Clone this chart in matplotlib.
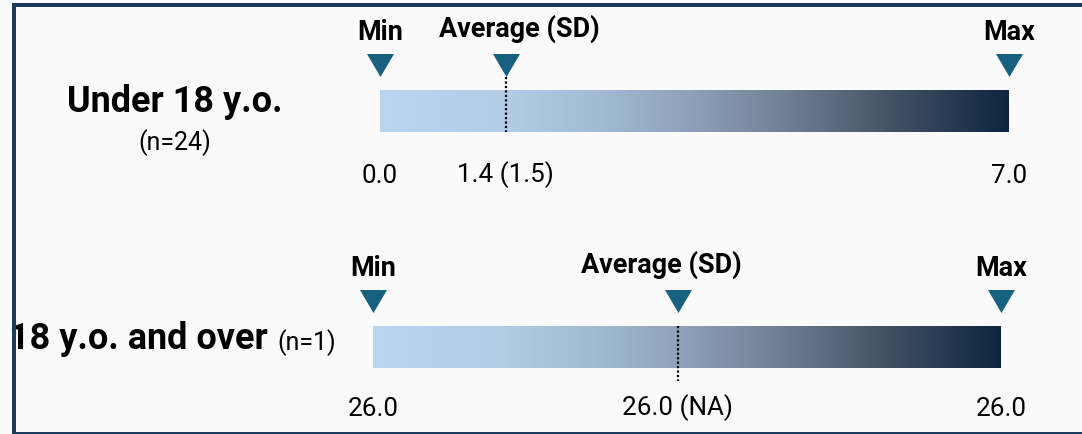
import numpy as np
import matplotlib.pyplot as plt
from matplotlib.colors import LinearSegmentedColormap
from matplotlib.path import Path

# Age groups and their summary statistics
groups = ["Under 18 y.o.", "18 y.o. and over"]
group_n = [24, 1]
min_vals = [0.0, 26.0]
avg_vals = [1.4, 26.0]
sd_vals = [1.5, None]
max_vals = [7.0, 26.0]

# Layout of each row (pixel space of the figure)
bar_left = [380, 373]
bar_right = [1009, 1001]
bar_top = [91, 327]
bar_height = 42
avg_label_shift = [14, -16]
dot_span = [(-13, 42), (0, 55)]
value_gap = [50, 47]
flat_frac = 0.485  # where the average sits when min == max

BG = "#FAFAFA"
TRI_COLOR = "#17607F"
BORDER = "#1C3A5C"
FONT = "Roboto"

grad = LinearSegmentedColormap.from_list(
    "bar_grad",
    [(0.0, "#BAD5F0"), (0.2, "#B3CDE7"), (0.35, "#A2BAD4"), (0.5, "#8DA0B7"),
     (0.65, "#6F7E93"), (0.8, "#475668"), (1.0, "#0E2540")],
)

tri = Path([(-1, 0.85), (1, 0.85), (0, -0.85), (-1, 0.85)],
           [Path.MOVETO, Path.LINETO, Path.LINETO, Path.CLOSEPOLY])

W, H = 1082, 435
fig = plt.figure(figsize=(W / 100, H / 100), dpi=100, facecolor=BG)
ax = fig.add_axes([0, 0, 1, 1])
ax.set_xlim(0, W)
ax.set_ylim(H, 0)
ax.set_facecolor(BG)
ax.axis("off")

ramp = np.linspace(0, 1, 512).reshape(1, -1)


def px(v):
    # pixel size -> points
    return v * 0.72


for i in range(len(groups)):
    x0, x1 = bar_left[i], bar_right[i]
    top = bar_top[i]
    bottom = top + bar_height
    span = max_vals[i] - min_vals[i]
    frac = (avg_vals[i] - min_vals[i]) / span if span > 0 else flat_frac
    xs = [x0, x0 + frac * (x1 - x0), x1]

    ax.imshow(ramp, cmap=grad, aspect="auto", extent=(x0, x1, bottom, top), zorder=1)

    # markers above the bar
    tri_y = top - 25
    ax.plot(xs, [tri_y] * 3, linestyle="none", marker=tri, markersize=px(27),
            color=TRI_COLOR, markeredgewidth=0, zorder=3)

    # dotted guide at the average
    d0, d1 = dot_span[i]
    ax.plot([xs[1], xs[1]], [top + d0, top + d1], color="black", linestyle=(0, (1, 1)),
            linewidth=1.6, zorder=4)

    # headers
    head_y = tri_y - 26
    ax.text(xs[0], head_y, "Min", ha="center", va="baseline", fontsize=px(27),
            fontweight="bold", family=FONT)
    ax.text(xs[1] + avg_label_shift[i], head_y - 3, "Average (SD)", ha="center",
            va="baseline", fontsize=px(27), fontweight="bold", family=FONT)
    ax.text(xs[2], head_y, "Max", ha="center", va="baseline", fontsize=px(27),
            fontweight="bold", family=FONT)

    # values under the bar
    sd_txt = "NA" if sd_vals[i] is None else f"{sd_vals[i]:.1f}"
    val_y = bottom + value_gap[i]
    ax.text(xs[0], val_y, f"{min_vals[i]:.1f}", ha="center", va="baseline",
            fontsize=px(26), family=FONT)
    ax.text(xs[1], val_y - 1, f"{avg_vals[i]:.1f} ({sd_txt})", ha="center",
            va="baseline", fontsize=px(26), family=FONT)
    ax.text(xs[2], val_y, f"{max_vals[i]:.1f}", ha="center", va="baseline",
            fontsize=px(26), family=FONT)

# group names on the left
ax.text(175, 112, groups[0], ha="center", va="baseline", fontsize=px(36),
        fontweight="bold", family=FONT)
ax.text(175, 150, f"(n={group_n[0]})", ha="center", va="baseline", fontsize=px(25),
        family=FONT)
ax.text(268, 349, groups[1], ha="right", va="baseline", fontsize=px(36),
        fontweight="bold", family=FONT)
ax.text(277, 350, f"(n={group_n[1]})", ha="left", va="baseline", fontsize=px(25),
        family=FONT)

# frame on the left, top and bottom edges
ax.plot([14, 14], [4, 435], color=BORDER, linewidth=px(4), zorder=10,
        solid_capstyle="butt")
ax.plot([12, W], [5.5, 5.5], color=BORDER, linewidth=px(4), zorder=10,
        solid_capstyle="butt")
ax.plot([12, W], [433.5, 433.5], color=BORDER, linewidth=px(3), zorder=10,
        solid_capstyle="butt")

fig.savefig("out.png", dpi=100, facecolor=BG)
